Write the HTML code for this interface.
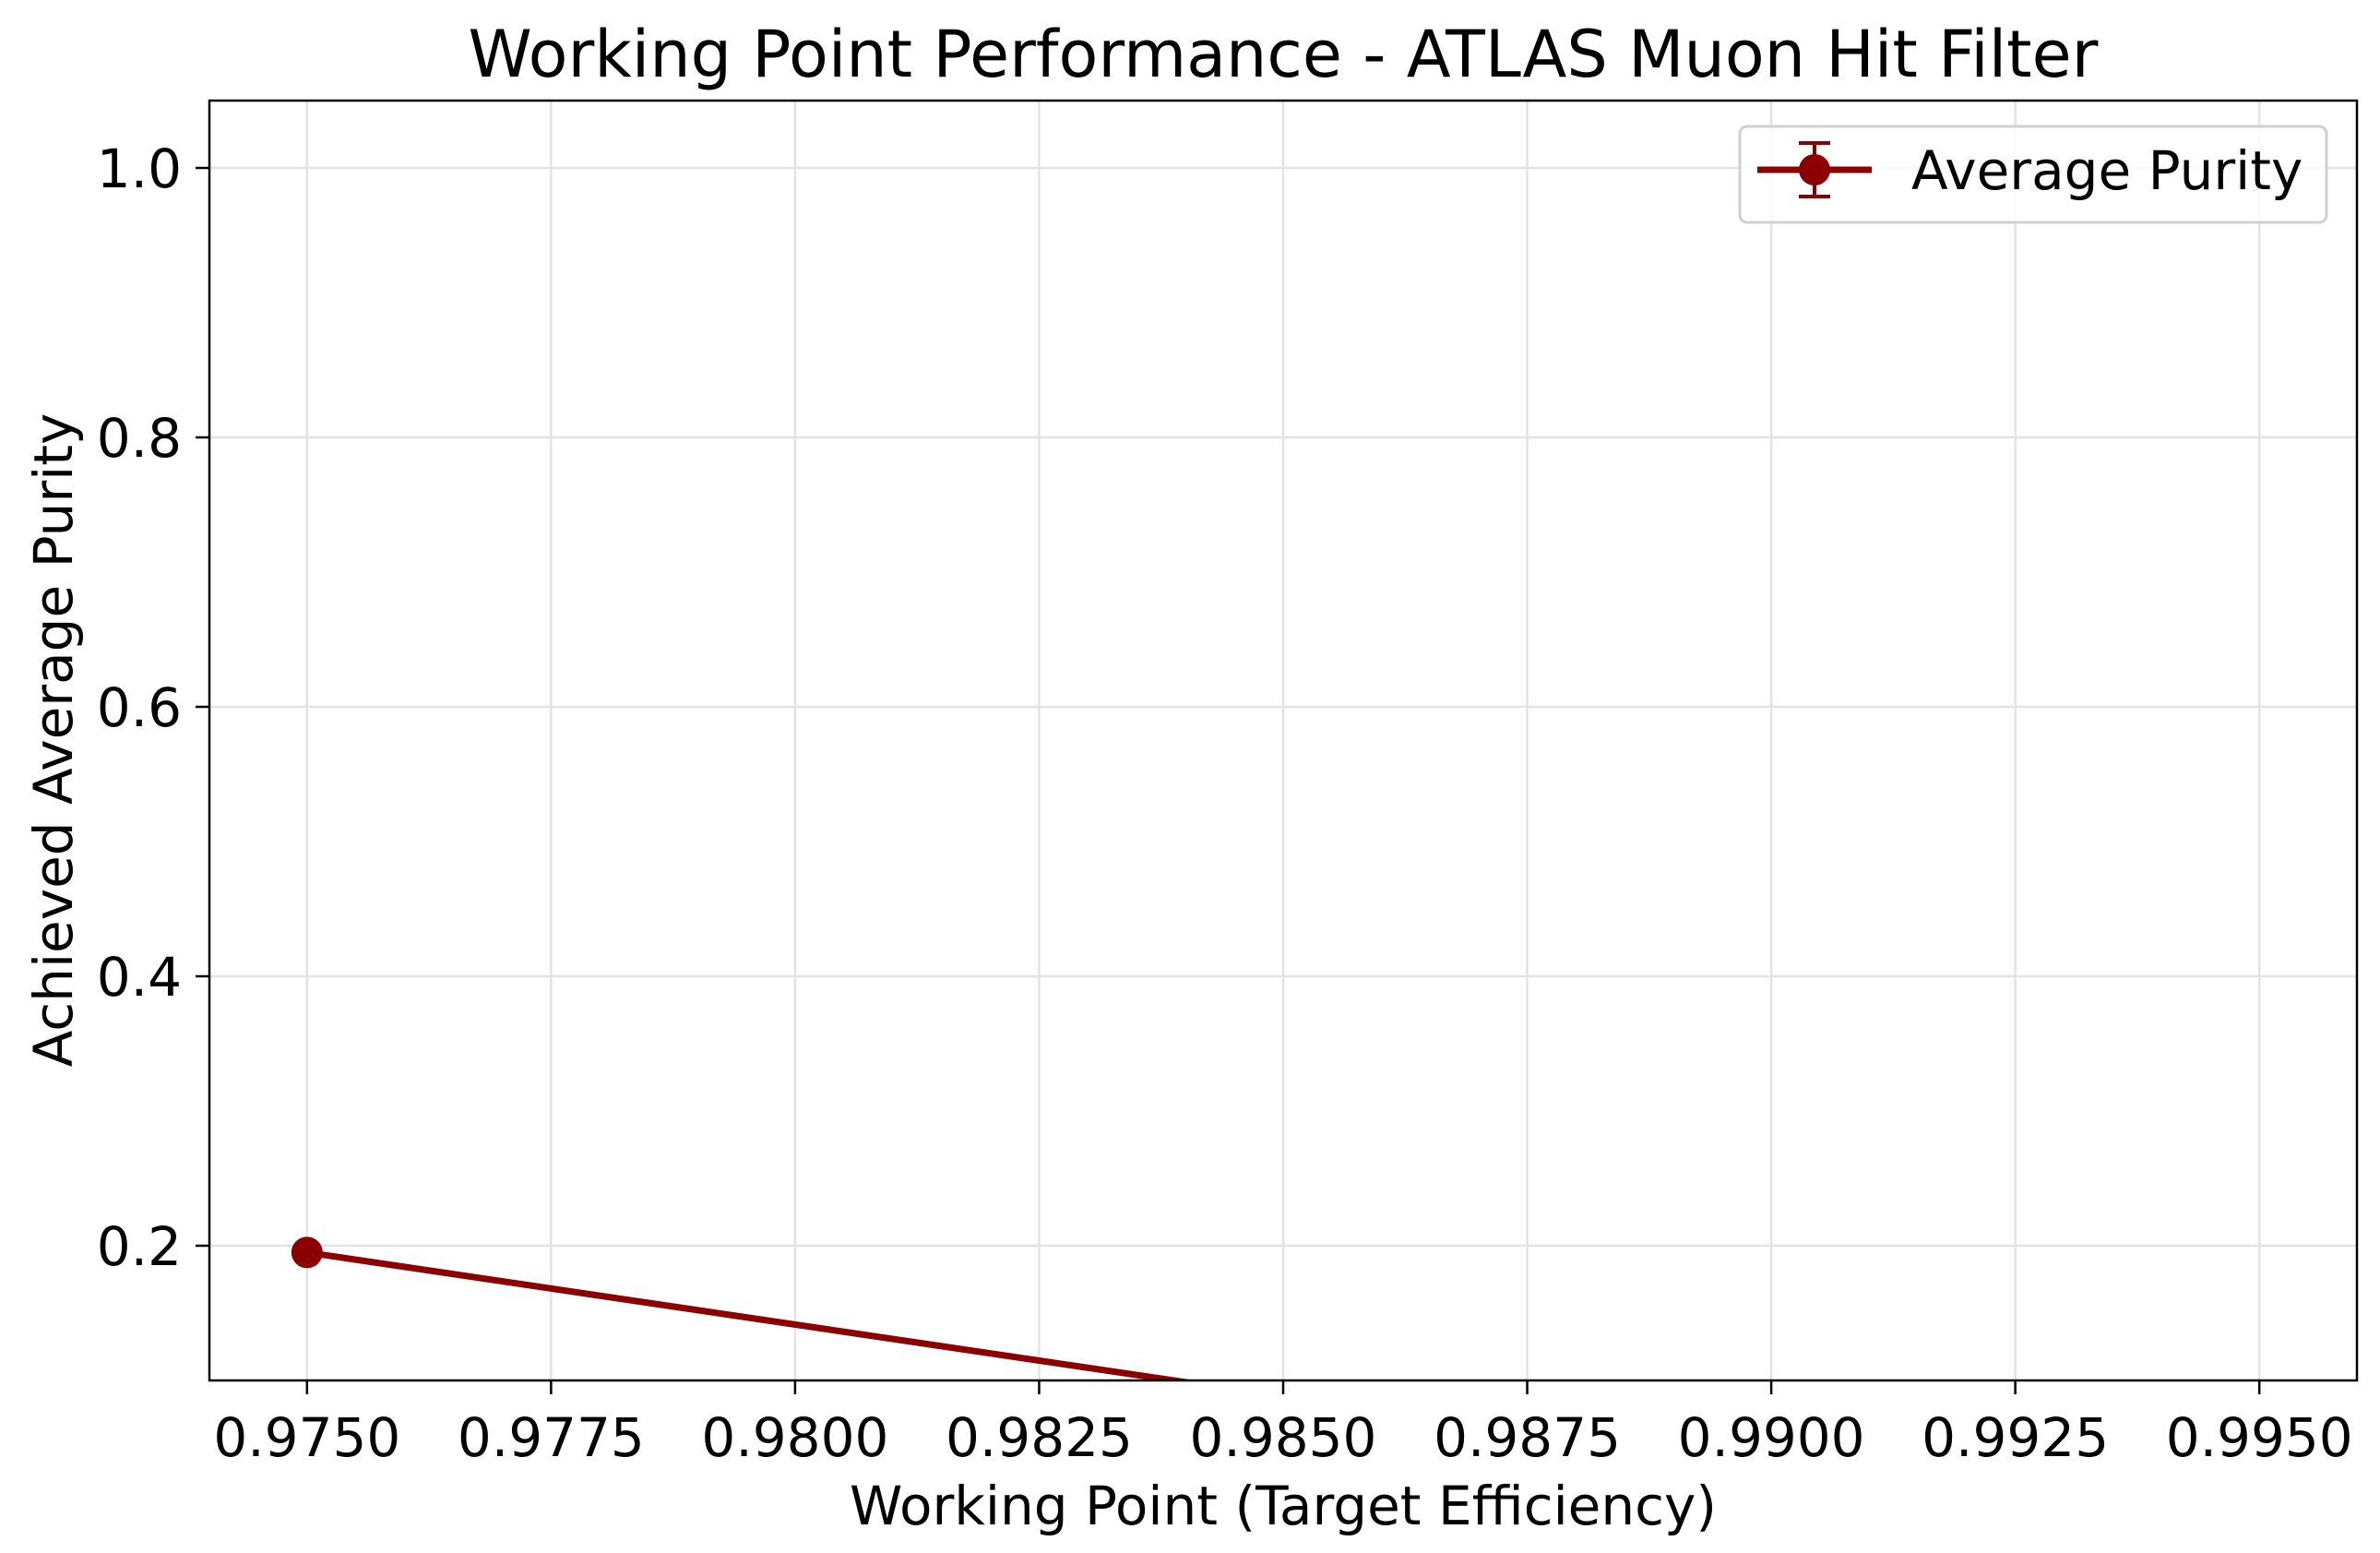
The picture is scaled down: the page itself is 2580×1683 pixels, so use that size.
<!DOCTYPE html>
<html><head><meta charset="utf-8"><style>
html,body{margin:0;padding:0;background:#fff;}
svg{display:block;font-family:"DejaVu Sans","Liberation Sans",sans-serif;}
</style></head><body>
<svg id="chart" width="2580" height="1683" viewBox="0 0 2580 1683">
<defs><clipPath id="plotclip"><rect x="227" y="109" width="2328" height="1387"/></clipPath></defs>
<rect width="2580" height="1683" fill="#fff"/>
<g id="grid"></g>
<g id="series" clip-path="url(#plotclip)"></g>
<rect x="227" y="109" width="2328" height="1387" fill="none" stroke="#000" stroke-width="2.5"/>
<g id="ticks"></g>
<text x="1391" y="83" font-size="70" text-anchor="middle">Working Point Performance - ATLAS Muon Hit Filter</text>
<text x="1391" y="1652" font-size="58" text-anchor="middle">Working Point (Target Efficiency)</text>
<text transform="translate(78,802) rotate(-90)" font-size="58" text-anchor="middle">Achieved Average Purity</text>
<g>
<rect x="1886" y="137" width="636" height="104" rx="8" fill="#fff" fill-opacity="0.8" stroke="#d0d0d0" stroke-width="3"/>
<line x1="1905" y1="184" x2="2029" y2="184" stroke="#8b0000" stroke-width="7"/>
<line x1="1967" y1="155" x2="1967" y2="213" stroke="#8b0000" stroke-width="4"/>
<line x1="1950" y1="155" x2="1984" y2="155" stroke="#8b0000" stroke-width="4"/>
<line x1="1950" y1="213" x2="1984" y2="213" stroke="#8b0000" stroke-width="4"/>
<circle cx="1967" cy="184" r="17" fill="#8b0000"/>
<text x="2072" y="205" font-size="58">Average Purity</text>
</g>
</svg>
<script>
const workingPoints=[0.975,0.985,0.99,0.995];
const purity=[0.195,0.088,0.05,0.02];
const purityErr=[0.003,0.003,0.003,0.003];
const xTicks=[0.975,0.9775,0.98,0.9825,0.985,0.9875,0.99,0.9925,0.995];
const xTickLabels=["0.9750","0.9775","0.9800","0.9825","0.9850","0.9875","0.9900","0.9925","0.9950"];
const yTicks=[0.2,0.4,0.6,0.8,1.0];
const yTickLabels=["0.2","0.4","0.6","0.8","1.0"];
const L=227,R=2555,T=109,B=1496,X0=0.974,X1=0.996,Y0=0.1,Y1=1.05;
const sx=v=>L+(v-X0)/(X1-X0)*(R-L);
const sy=v=>B-(v-Y0)/(Y1-Y0)*(B-T);
const NS='http://www.w3.org/2000/svg';
function mk(tag,attrs,parent){const e=document.createElementNS(NS,tag);for(const k in attrs)e.setAttribute(k,attrs[k]);parent.appendChild(e);return e;}
const grid=document.getElementById('grid'),ticks=document.getElementById('ticks'),series=document.getElementById('series');
xTicks.forEach((v,i)=>{
 const x=sx(v);
 const g=mk('line',{x1:x,y1:T,x2:x,y2:B,stroke:'#e3e3e3','stroke-width':2.5},grid);
 
 
 const t=mk('line',{x1:x,y1:B,x2:x,y2:B+15,stroke:'#000','stroke-width':2.5},ticks);
 
 
 const l=mk('text',{x:x,y:B+82,'font-size':58,'text-anchor':'middle'},ticks);
 l.textContent=xTickLabels[i];
 
 
});
yTicks.forEach((v,i)=>{
 const y=sy(v);
 const g=mk('line',{x1:L,y1:y,x2:R,y2:y,stroke:'#e3e3e3','stroke-width':2.5},grid);
 
 
 const t=mk('line',{x1:L-15,y1:y,x2:L,y2:y,stroke:'#000','stroke-width':2.5},ticks);
 
 
 const l=mk('text',{x:L-30,y:y+21,'font-size':58,'text-anchor':'end'},ticks);
 l.textContent=yTickLabels[i];
 
 
});
const pts=workingPoints.map((w,i)=>sx(w)+','+sy(purity[i])).join(' ');
const pl=mk('polyline',{points:pts,fill:'none',stroke:'#8b0000','stroke-width':7},series);


workingPoints.forEach((w,i)=>{
 const x=sx(w);
 const eb=mk('line',{x1:x,y1:sy(purity[i]-purityErr[i]),x2:x,y2:sy(purity[i]+purityErr[i]),stroke:'#8b0000','stroke-width':4},series);
 
 
 const c=mk('circle',{cx:x,cy:sy(purity[i]),r:17,fill:'#8b0000'},series);
 
 
});
</script>
</body></html>
